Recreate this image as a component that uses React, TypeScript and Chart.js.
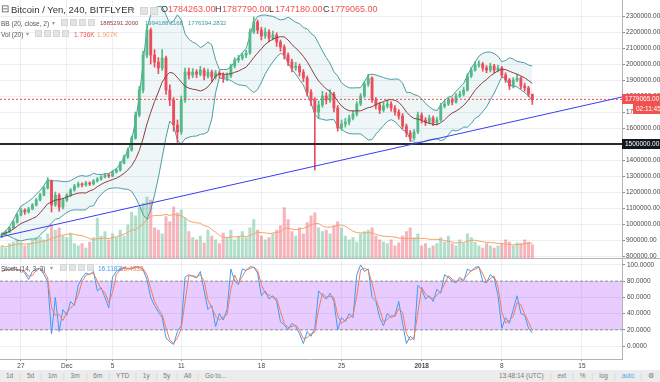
import React, { useEffect, useRef } from 'react';
import { Chart, registerables } from 'chart.js';
Chart.register(...registerables);

const FONT = '"Liberation Sans", Arial, sans-serif';

// ---------- data: 8-hour candles, prices in thousand yen ----------
const START_TIME = '2017-11-25T08:00:00Z';
const CANDLE_HOURS = 8;
const VIEW_FIRST = -0.5;
const VIEW_LAST = 162.5;
const FIRST_OPEN = 925;

const CLOSE = [
  937, 950, 975, 1012, 1056, 1087, 1075, 1094, 1119, 1150,
  1181, 1225, 1269, 1119, 1181, 1106, 1150, 1181, 1212, 1237,
  1250, 1244, 1256, 1250, 1269, 1281, 1294, 1306, 1300, 1325,
  1337, 1381, 1419, 1462, 1537, 1681, 1837, 2056, 2212, 2056,
  2012, 1975, 2037, 1837, 1775, 1619, 1575, 1775, 1950, 1931,
  1950, 1937, 1962, 1925, 1950, 1919, 1944, 1931, 1912, 1925,
  1987, 2025, 2037, 2056, 2069, 2200, 2262, 2212, 2175, 2200,
  2162, 2181, 2137, 2106, 2056, 2012, 1975, 1987, 1950, 1912,
  1825, 1775, 1700, 1744, 1800, 1775, 1812, 1725, 1600, 1625,
  1637, 1662, 1687, 1750, 1800, 1875, 1912, 1775, 1744, 1712,
  1737, 1750, 1725, 1700, 1675, 1612, 1569, 1537, 1575, 1681,
  1650, 1637, 1662, 1631, 1650, 1737, 1750, 1775, 1762, 1800,
  1812, 1837, 1925, 1962, 1994, 2000, 1975, 1962, 1987, 1962,
  1975, 1931, 1900, 1862, 1900, 1912, 1862, 1850, 1812, 1779.065,
];
const HIGH = [
  945, 958, 982, 1020, 1065, 1100, 1095, 1105, 1128, 1160,
  1192, 1236, 1290, 1275, 1200, 1190, 1162, 1190, 1222, 1248,
  1262, 1258, 1266, 1264, 1278, 1290, 1302, 1316, 1315, 1334,
  1348, 1390, 1430, 1475, 1550, 1700, 1860, 2080, 2240, 2225,
  2090, 2040, 2090, 2050, 1870, 1790, 1650, 1800, 1975, 1975,
  1972, 1965, 1985, 1975, 1968, 1962, 1960, 1958, 1945, 1945,
  2000, 2040, 2055, 2070, 2085, 2220, 2294, 2275, 2230, 2225,
  2215, 2205, 2195, 2150, 2120, 2070, 2030, 2010, 2000, 1965,
  1925, 1840, 1790, 1770, 1830, 1820, 1840, 1825, 1740, 1650,
  1660, 1680, 1705, 1765, 1815, 1890, 1935, 1920, 1790, 1760,
  1760, 1775, 1765, 1740, 1715, 1690, 1625, 1585, 1590, 1700,
  1695, 1665, 1680, 1675, 1668, 1755, 1770, 1792, 1790, 1815,
  1830, 1855, 1940, 1980, 2015, 2020, 2010, 1990, 2005, 1998,
  1992, 1985, 1945, 1910, 1915, 1935, 1920, 1880, 1860, 1787.79,
];
const LOW = [
  915, 930, 945, 970, 1005, 1050, 1060, 1068, 1088, 1112,
  1144, 1175, 1218, 1075, 1110, 1080, 1095, 1140, 1172, 1205,
  1228, 1232, 1236, 1240, 1244, 1262, 1274, 1288, 1290, 1295,
  1318, 1330, 1375, 1410, 1455, 1530, 1670, 1820, 2040, 2000,
  1980, 1940, 1960, 1810, 1740, 1580, 1510, 1560, 1760, 1905,
  1915, 1915, 1925, 1900, 1912, 1890, 1905, 1912, 1885, 1895,
  1915, 1975, 2010, 2025, 2040, 2060, 2190, 2190, 2150, 2160,
  2140, 2150, 2110, 2080, 2030, 1990, 1950, 1960, 1925, 1890,
  1800, 1740, 1337, 1660, 1730, 1750, 1760, 1700, 1580, 1585,
  1605, 1620, 1650, 1675, 1740, 1790, 1860, 1760, 1720, 1690,
  1700, 1725, 1705, 1680, 1655, 1595, 1545, 1515, 1525, 1565,
  1630, 1615, 1625, 1615, 1620, 1642, 1725, 1740, 1745, 1755,
  1790, 1800, 1830, 1915, 1955, 1980, 1955, 1945, 1950, 1945,
  1950, 1915, 1885, 1840, 1850, 1890, 1845, 1830, 1795, 1747.18,
];
const VOLUME_K = [
  1.6, 1.3, 1.9, 2.1, 2.4, 2.0, 1.6, 1.9, 2.4, 2.7,
  2.8, 2.4, 3.2, 4.4, 3.7, 4.0, 2.9, 2.7, 3.3, 1.9,
  1.6, 1.9, 1.3, 2.1, 2.7, 5.3, 2.9, 3.5, 2.4, 3.2,
  2.7, 3.7, 2.9, 4.4, 6.1, 5.6, 6.7, 7.3, 8.1, 7.7,
  4.0, 3.7, 3.2, 5.5, 4.8, 6.8, 6.0, 6.4, 5.3, 3.5,
  2.7, 2.4, 2.9, 2.0, 3.7, 2.9, 2.4, 1.9, 3.3, 2.7,
  3.7, 2.4, 2.9, 3.5, 2.7, 4.0, 5.1, 3.7, 2.9, 2.4,
  2.7, 3.2, 3.7, 4.3, 6.7, 5.1, 3.5, 2.9, 4.0, 3.2,
  4.7, 5.6, 6.0, 4.0, 3.5, 3.7, 3.2, 4.3, 4.8, 4.0,
  2.9, 2.4, 2.7, 2.1, 3.2, 3.5, 3.7, 4.0, 2.9, 2.4,
  2.1, 1.9, 2.4, 1.6, 2.0, 2.9, 3.5, 4.0, 2.7, 3.2,
  1.6, 1.9, 1.3, 1.6, 1.9, 2.7, 2.1, 2.9, 1.9, 1.6,
  2.4, 1.9, 3.2, 2.7, 2.1, 1.6, 1.3, 1.9, 1.6, 1.3,
  1.6, 1.9, 2.4, 2.1, 1.6, 2.0, 1.9, 2.4, 2.1, 1.736,
];
const STOCH_K = [
  92, 95, 94, 96, 93, 94, 90, 82, 92, 95,
  96, 88, 80, 15, 60, 18, 45, 38, 55, 50,
  75, 84, 90, 88, 92, 68, 72, 60, 47, 85,
  92, 95, 97, 95, 96, 98, 97, 94, 82, 60,
  50, 42, 35, 10, 5, 2, 18, 25, 85, 88,
  86, 84, 92, 68, 45, 50, 24, 40, 32, 45,
  95, 80, 76, 95, 93, 98, 97, 90, 62, 68,
  58, 62, 55, 30, 26, 20, 28, 24, 15, 3,
  18, 12, 22, 68, 62, 58, 65, 55, 20, 35,
  30, 40, 35, 88, 100, 92, 95, 60, 55, 35,
  25, 40, 35, 38, 55, 28, 3, 12, 8, 75,
  70, 58, 62, 55, 70, 65, 88, 85, 80, 78,
  85, 80, 95, 92, 97, 98, 80, 78, 88, 84,
  62, 22, 35, 28, 45, 62, 40, 38, 22, 16,
];

const PRICE_TICKS = [800000, 900000, 1000000, 1100000, 1200000, 1300000, 1400000, 1500000,
  1600000, 1700000, 1800000, 1900000, 2000000, 2100000, 2200000, 2300000];
const STOCH_TICKS = [0, 20, 40, 60, 80, 100];
const TIME_TICK_LABELS = ['27', 'Dec', '5', '11', '18', '25', '2018', '8', '15'];
const TIME_TICK_DATES = ['2017-11-27', '2017-12-01', '2017-12-05', '2017-12-11', '2017-12-18',
  '2017-12-25', '2018-01-01', '2018-01-08', '2018-01-15'];

const SUPPORT_LEVEL = 1500000;
const TREND_START = 918750;
const TREND_END = 1793750;
const LAST_PRICE = 1779065;
const COUNTDOWN = '02:11:45';
const PRICE_RANGE = [787500, 2400000];
const STOCH_RANGE = [-16, 108.6];
const VOL_RANGE = [-13.5, 34.4];
const BAND_LEVELS = [80, 20];

const BB_PERIOD = 10;
const VOL_MA_PERIOD = 10;
const D_PERIOD = 2;

// ---------- derived ----------
const GREEN = '#53b987';
const RED = '#eb4d5c';
const OPEN = CLOSE.map((_, i) => (i === 0 ? FIRST_OPEN : CLOSE[i - 1]));
const UP = CLOSE.map((c, i) => c >= OPEN[i]);
const windowOf = (arr: number[], i: number, p: number) => arr.slice(Math.max(0, i - p + 1), i + 1);
const mean = (w: number[]) => w.reduce((a, b) => a + b, 0) / w.length;
const sd = (w: number[]) => { const m = mean(w); return Math.sqrt(mean(w.map(v => (v - m) * (v - m)))); };
const BB_MID = CLOSE.map((_, i) => mean(windowOf(CLOSE, i, BB_PERIOD)) * 1000);
const BB_UP = CLOSE.map((_, i) => (mean(windowOf(CLOSE, i, BB_PERIOD)) + 2 * sd(windowOf(CLOSE, i, BB_PERIOD))) * 1000);
const BB_LO = CLOSE.map((_, i) => (mean(windowOf(CLOSE, i, BB_PERIOD)) - 2 * sd(windowOf(CLOSE, i, BB_PERIOD))) * 1000);
const VOL_MA = VOLUME_K.map((_, i) => mean(windowOf(VOLUME_K, i, VOL_MA_PERIOD)));
const STOCH_D = STOCH_K.map((_, i) => mean(windowOf(STOCH_K, i, D_PERIOD)));
const tickIndex = (d: string) => (Date.parse(d + 'T00:00:00Z') - Date.parse(START_TIME)) / 3600000 / CANDLE_HOURS;
const TIME_TICKS = TIME_TICK_DATES.map(tickIndex);
const idx = CLOSE.map((_, i) => i);
const pts = (arr: number[]) => arr.map((v, i) => ({ x: i, y: v }));
const hline = (v: number) => [{ x: VIEW_FIRST, y: v }, { x: VIEW_LAST, y: v }];

const overlayPlugin = {
  id: 'overlay',
  afterDraw(chart: any) {
    const { ctx } = chart;
    const y = chart.scales.y;
    const yS = chart.scales.yS;
    ctx.save();
    ctx.strokeStyle = '#b4b4b4';
    ctx.lineWidth = 1;
    ctx.beginPath();
    ctx.moveTo(0, Math.round(yS.top) + 0.5);
    ctx.lineTo(chart.width, Math.round(yS.top) + 0.5);
    ctx.stroke();
    // stochastic axis labels
    ctx.font = '6.5px ' + FONT;
    ctx.textBaseline = 'middle';
    ctx.fillStyle = '#4a4a4a';
    STOCH_TICKS.forEach(v => {
      ctx.fillText(v.toFixed(4), yS.left + 5, yS.getPixelForValue(v));
    });
    const tag = (value: number, text: string, bg: string, left: number, dy: number) => {
      const py = Math.round(y.getPixelForValue(value)) + dy;
      ctx.fillStyle = bg;
      ctx.fillRect(left, py - 5, chart.width - left, 10);
      ctx.fillStyle = '#ffffff';
      ctx.fillText(text, left + 3, py + 0.5);
    };
    tag(LAST_PRICE, LAST_PRICE.toFixed(2), '#ef5350', y.left, 0);
    tag(LAST_PRICE, COUNTDOWN, '#ef5350', y.left + 11, 10);
    tag(SUPPORT_LEVEL, SUPPORT_LEVEL.toFixed(2), '#131722', y.left, 0);
    ctx.restore();
  },
};

const line = (data: any[], color: string, yAxisID: string, order: number, extra: any = {}) => ({
  type: 'line', data, borderColor: color, borderWidth: 1, pointRadius: 0, yAxisID, order, ...extra,
});

function buildConfig(): any {
  const datasets: any[] = [
    line(hline(BAND_LEVELS[0]), '#8f8f8f', 'yS', 50, { borderDash: [3, 2], backgroundColor: 'rgba(153,21,255,0.22)' }),
    line(hline(BAND_LEVELS[1]), '#8f8f8f', 'yS', 50, { borderDash: [3, 2], fill: '-1', backgroundColor: 'rgba(153,21,255,0.22)' }),
    {
      type: 'bar', yAxisID: 'yVol', order: 40, grouped: false, barThickness: 2.4,
      data: idx.map(i => ({ x: i, y: VOLUME_K[i] })),
      backgroundColor: idx.map(i => (UP[i] ? 'rgba(83,185,135,0.45)' : 'rgba(235,77,92,0.42)')),
    },
    line(pts(VOL_MA), '#f6a26b', 'yVol', 39),
    line(pts(BB_UP), '#4a9da3', 'y', 30),
    line(pts(BB_LO), '#4a9da3', 'y', 30, { fill: '-1', backgroundColor: 'rgba(74,157,163,0.09)' }),
    {
      type: 'bar', yAxisID: 'y', order: 10, grouped: false, barThickness: 1,
      data: idx.map(i => ({ x: i, y: [LOW[i] * 1000, HIGH[i] * 1000] })),
      backgroundColor: idx.map(i => (UP[i] ? GREEN : RED)),
    },
    {
      type: 'bar', yAxisID: 'y', order: 9, grouped: false, barThickness: 2.2, minBarLength: 1,
      data: idx.map(i => ({ x: i, y: [OPEN[i] * 1000, CLOSE[i] * 1000] })),
      backgroundColor: idx.map(i => (UP[i] ? GREEN : RED)),
    },
    line(pts(BB_MID), '#8c3f3f', 'y', 8),
    line(hline(LAST_PRICE), '#f04a4a', 'y', 7, { borderDash: [2, 2] }),
    line(hline(SUPPORT_LEVEL), '#2a2a2a', 'y', 6, { borderWidth: 2 }),
    line([{ x: VIEW_FIRST, y: TREND_START }, { x: VIEW_LAST, y: TREND_END }], '#3d3df0', 'y', 5),
    line(pts(STOCH_K), '#3d9cf2', 'yS', 4),
    line(pts(STOCH_D), '#f57a55', 'yS', 3),
  ];
  const gridColor = '#ebeff4';
  const tickFont = { size: 6.5, family: FONT };
  const fixWidth = (s: any) => { s.width = 38; s.paddingTop = 0; s.paddingBottom = 0; };
  return {
    type: 'bar',
    data: { datasets },
    plugins: [overlayPlugin],
    options: {
      animation: false,
      responsive: false,
      devicePixelRatio: 1,
      layout: { padding: 0 },
      events: [],
      plugins: { legend: { display: false }, tooltip: { enabled: false } },
      scales: {
        x: {
          type: 'linear', min: VIEW_FIRST, max: VIEW_LAST, offset: false,
          afterBuildTicks: (s: any) => { s.ticks = TIME_TICKS.map(v => ({ value: v })); },
          afterFit: (s: any) => { s.height = 11; s.paddingLeft = 0; s.paddingRight = 0; },
          grid: { color: gridColor, offset: false, tickLength: 2, tickColor: '#9a9a9a' },
          border: { color: '#b4b4b4' },
          ticks: {
            padding: 1, color: '#4a4a4a', maxRotation: 0, autoSkip: false,
            font: (c: any) => ({ ...tickFont, weight: c.tick && c.tick.value === TIME_TICKS[6] ? 'bold' : 'normal' }),
            callback: (v: number) => { const k = TIME_TICKS.indexOf(v); return k >= 0 ? TIME_TICK_LABELS[k] : ''; },
          },
        },
        y: {
          type: 'linear', position: 'right', stack: 'panels', stackWeight: 258,
          min: PRICE_RANGE[0], max: PRICE_RANGE[1],
          afterBuildTicks: (s: any) => { s.ticks = PRICE_TICKS.map(v => ({ value: v })); },
          afterFit: fixWidth,
          grid: { color: gridColor, tickLength: 3, tickColor: '#8a8a8a' },
          border: { color: '#b4b4b4' },
          ticks: { padding: 1, color: '#4a4a4a', font: tickFont, autoSkip: false, callback: (v: number) => Number(v).toFixed(2) },
        },
        yS: {
          type: 'linear', position: 'right', stack: 'panels', stackWeight: 101,
          min: STOCH_RANGE[0], max: STOCH_RANGE[1],
          afterBuildTicks: (s: any) => { s.ticks = STOCH_TICKS.map(v => ({ value: v })); },
          afterFit: fixWidth,
          grid: { color: gridColor, tickLength: 3, tickColor: '#8a8a8a' },
          border: { color: '#b4b4b4' },
          ticks: { display: false, autoSkip: false },
        },
        yVol: {
          type: 'linear', position: 'left', display: false,
          min: VOL_RANGE[0], max: VOL_RANGE[1],
        },
      },
    },
  };
}

const LEGEND = [
  { t: '⊟', l: 1, top: 4, s: 10, c: '#555' },
  { t: 'Bitcoin / Yen, 240, BITFLYER', l: 11, top: 5, s: 9.5, c: '#333' },
  { t: '▾', l: 131, top: 5, s: 7, c: '#999' },
  { t: 'O', l: 161, top: 5, s: 9, c: '#333' },
  { t: '1784263.00', l: 168, top: 5, s: 9, c: '#ef5350' },
  { t: 'H', l: 215, top: 5, s: 9, c: '#333' },
  { t: '1787790.00', l: 222, top: 5, s: 9, c: '#ef5350' },
  { t: 'L', l: 269, top: 5, s: 9, c: '#333' },
  { t: '1747180.00', l: 275, top: 5, s: 9, c: '#ef5350' },
  { t: 'C', l: 323, top: 5, s: 9, c: '#333' },
  { t: '1779065.00', l: 330, top: 5, s: 9, c: '#ef5350' },
  { t: 'BB (20, close, 2)', l: 1, top: 19, s: 6.5, c: '#555' },
  { t: '▾', l: 52, top: 19, s: 6, c: '#999' },
  { t: '1885291.2000', l: 100, top: 19, s: 6, c: '#8c3f3f' },
  { t: '1994188.1168', l: 145, top: 19, s: 6, c: '#3d9a9b' },
  { t: '1776394.2832', l: 188, top: 19, s: 6, c: '#3d9a9b' },
  { t: 'Vol (20)', l: 1, top: 30, s: 6.5, c: '#555' },
  { t: '▾', l: 26, top: 30, s: 6, c: '#999' },
  { t: '1.736K', l: 74, top: 30, s: 6.5, c: '#ef5350' },
  { t: '1.907K', l: 97, top: 30, s: 6.5, c: '#f6a26b' },
  { t: 'Stoch (14, 3, 3)', l: 1, top: 264, s: 6.5, c: '#555' },
  { t: '▾', l: 50, top: 264, s: 6, c: '#999' },
  { t: '16.1183', l: 98, top: 264, s: 6.5, c: '#3d9cf2' },
  { t: '16.4933', l: 120, top: 264, s: 6.5, c: '#f57a55' },
];
const ICON_ROWS = [
  { l: 140, top: 6.5, n: 2, s: 8 },
  { l: 61, top: 19, n: 4, s: 7 },
  { l: 35, top: 30, n: 4, s: 7 },
  { l: 60, top: 264, n: 4, s: 7 },
];
const TOOLBAR_LEFT = ['1d', '5d', '1m', '3m', '6m', 'YTD', '1y', '5y', 'All', 'Go to...'];
const TOOLBAR_RIGHT = ['13:48:14 (UTC)', 'ext', '%', 'log', 'auto', '⚙'];

export default function App() {
  const ref = useRef<HTMLCanvasElement>(null);
  useEffect(() => {
    const chart = new Chart(ref.current as HTMLCanvasElement, buildConfig());
    return () => chart.destroy();
  }, []);
  const sep = <span style={{ color: '#cfcfcf', margin: '0 6px' }}>|</span>;
  return (
    <div style={{ position: 'absolute', left: 0, top: 0, width: 660, height: 382, background: '#fff', overflow: 'hidden', fontFamily: FONT }}>
      <canvas ref={ref} width={660} height={370} style={{ position: 'absolute', left: 0, top: 0, width: 660, height: 370 }} />
      {LEGEND.map((g, k) => (
        <div key={k} style={{ position: 'absolute', left: g.l, top: g.top, fontSize: g.s, lineHeight: '9px', color: g.c, whiteSpace: 'nowrap' }}>{g.t}</div>
      ))}
      {ICON_ROWS.map((r, k) => Array.from({ length: r.n }).map((_, j) => (
        <div key={k + '-' + j} style={{ position: 'absolute', left: r.l + j * (r.s + 2), top: r.top, width: r.s, height: r.s, background: '#e4e4e4', border: '1px solid #d6d6d6', boxSizing: 'border-box' }} />
      )))}
      <div style={{ position: 'absolute', left: 0, top: 370, width: 660, height: 12, background: '#ececec', fontSize: 6.5, color: '#7a7a7a', lineHeight: '12px', whiteSpace: 'nowrap' }}>
        <div style={{ position: 'absolute', left: 6 }}>
          {TOOLBAR_LEFT.map((t, k) => (<span key={k}>{t}{k < TOOLBAR_LEFT.length - 1 ? sep : null}</span>))}
        </div>
        <div style={{ position: 'absolute', right: 6 }}>
          {TOOLBAR_RIGHT.map((t, k) => (<span key={k} style={{ color: t === 'auto' ? '#4ea6e6' : '#7a7a7a' }}>{t}{k < TOOLBAR_RIGHT.length - 1 ? sep : null}</span>))}
        </div>
      </div>
    </div>
  );
}
